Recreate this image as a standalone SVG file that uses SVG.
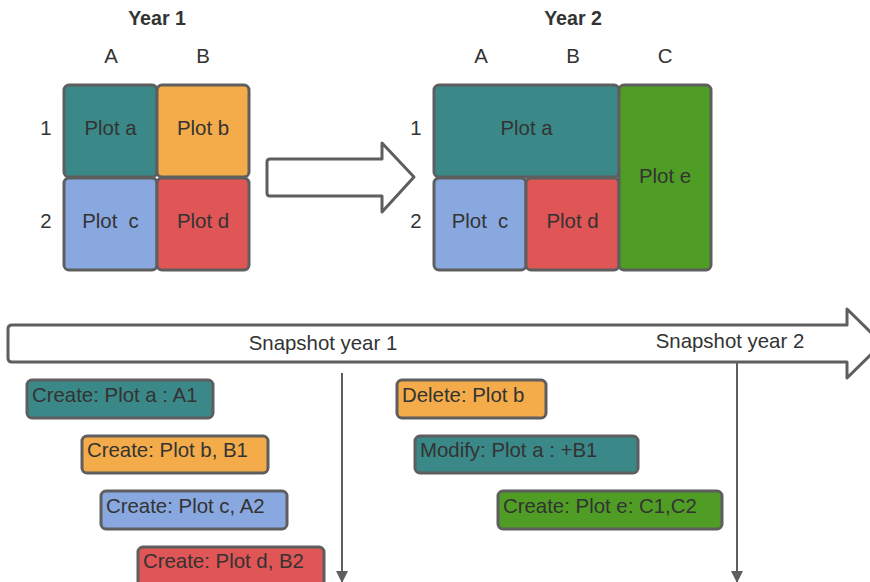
<svg xmlns="http://www.w3.org/2000/svg" width="870" height="582" viewBox="0 0 870 582">
<defs>
<style>
text{font-family:"Liberation Sans",Arial,sans-serif;fill:#333333;font-size:20.4px}
.t{text-anchor:middle}
.b{font-weight:bold;font-size:19.6px}
.cell{stroke:#5e5e5e;stroke-width:3}
.teal{fill:#3a8888}
.org{fill:#f4ac4a}
.blu{fill:#89a8e0}
.red{fill:#e05555}
.grn{fill:#4f9d25}
.arr{fill:#ffffff;stroke:#5e5e5e;stroke-width:3;stroke-linejoin:round}
.ln{stroke:#5e5e5e;stroke-width:2;fill:none}
</style>
<marker id="ah" markerWidth="12" markerHeight="12" viewBox="0 0 12 12" refX="11" refY="6" orient="auto" markerUnits="userSpaceOnUse">
<path d="M0,0 L12,6 L0,12 Z" fill="#5e5e5e"/>
</marker>
</defs>
<rect width="870" height="582" fill="#ffffff"/>

<g id="year1-labels">
<text x="157" y="25" class="t b">Year 1</text>
<text x="111" y="63" class="t">A</text>
<text x="203" y="63" class="t">B</text>
<text x="46" y="135" class="t">1</text>
<text x="46" y="228" class="t">2</text>
</g>
<g id="y1-plot-a"><rect x="64" y="85" width="93" height="92" rx="5" class="cell teal"/><text x="110.5" y="135" class="t">Plot a</text></g>
<g id="y1-plot-b"><rect x="157" y="85" width="92" height="92" rx="5" class="cell org"/><text x="203" y="135" class="t">Plot b</text></g>
<g id="y1-plot-c"><rect x="64" y="178" width="93" height="92" rx="5" class="cell blu"/><text x="110.5" y="228" class="t" xml:space="preserve">Plot  c</text></g>
<g id="y1-plot-d"><rect x="157" y="178" width="92" height="92" rx="5" class="cell red"/><text x="203" y="228" class="t">Plot d</text></g>

<g id="year2-labels">
<text x="573" y="25" class="t b">Year 2</text>
<text x="481" y="63" class="t">A</text>
<text x="573" y="63" class="t">B</text>
<text x="665" y="63" class="t">C</text>
<text x="416" y="135" class="t">1</text>
<text x="416" y="228" class="t">2</text>
</g>
<g id="y2-plot-a"><rect x="434" y="85" width="185" height="92" rx="5" class="cell teal"/><text x="526.5" y="135" class="t">Plot a</text></g>
<g id="y2-plot-c"><rect x="434" y="178" width="92" height="92" rx="5" class="cell blu"/><text x="480" y="228" class="t" xml:space="preserve">Plot  c</text></g>
<g id="y2-plot-d"><rect x="526" y="178" width="93" height="92" rx="5" class="cell red"/><text x="572.5" y="228" class="t">Plot d</text></g>
<g id="y2-plot-e"><rect x="619" y="85" width="92" height="185" rx="5" class="cell grn"/><text x="665" y="183" class="t">Plot e</text></g>

<g id="transition-arrow">
<path class="arr" d="M270,159 L382,159 L382,143 L414,177 L382,212 L382,196 L270,196 Q267,196 267,193 L267,162 Q267,159 270,159 Z"/>
</g>

<g id="timeline">
<path class="arr" d="M12,325 L847,325 L847,309 L882,343.5 L847,378 L847,362 L12,362 Q8,362 8,358 L8,329 Q8,325 12,325 Z"/>
<text x="323" y="350" class="t">Snapshot year 1</text>
<text x="730" y="348" class="t">Snapshot year 2</text>
</g>

<g id="connectors">
<line x1="342" y1="373" x2="342" y2="582" class="ln" marker-end="url(#ah)"/>
<line x1="737" y1="362" x2="737" y2="582" class="ln" marker-end="url(#ah)"/>
</g>

<g id="ev-create-a"><rect x="27" y="380" width="186" height="38" rx="5" class="cell teal"/><text x="32" y="402">Create: Plot a : A1</text></g>
<g id="ev-create-b"><rect x="82" y="436" width="186" height="37" rx="5" class="cell org"/><text x="87" y="457">Create: Plot b, B1</text></g>
<g id="ev-create-c"><rect x="101" y="491" width="186" height="38" rx="5" class="cell blu"/><text x="106" y="513">Create: Plot c, A2</text></g>
<g id="ev-create-d"><rect x="138" y="547" width="186" height="40" rx="5" class="cell red"/><text x="143" y="568">Create: Plot d, B2</text></g>
<g id="ev-delete-b"><rect x="397" y="380" width="149" height="38" rx="5" class="cell org"/><text x="402" y="402">Delete: Plot b</text></g>
<g id="ev-modify-a"><rect x="415" y="436" width="223" height="37" rx="5" class="cell teal"/><text x="420" y="457">Modify: Plot a : +B1</text></g>
<g id="ev-create-e"><rect x="498" y="491" width="224" height="38" rx="5" class="cell grn"/><text x="503" y="513">Create: Plot e: C1,C2</text></g>
</svg>
